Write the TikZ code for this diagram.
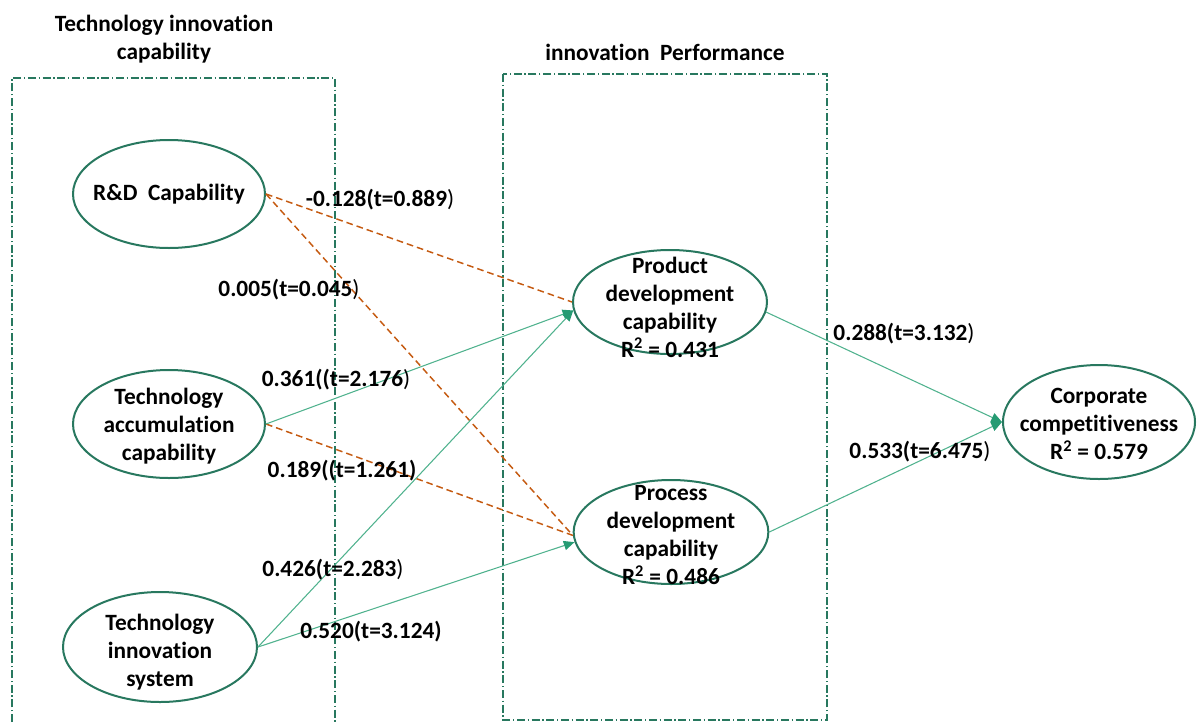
\documentclass[tikz,border=0pt]{standalone}
\usepackage{fontspec}
\setmainfont{Carlito}[RawFeature={-liga;-calt}]
\usetikzlibrary{shapes.geometric,arrows.meta}
\definecolor{ellgreen}{RGB}{40,120,95}
\definecolor{boxgreen}{RGB}{40,120,95}
\definecolor{linegreen}{RGB}{80,178,142}
\definecolor{tipgreen}{RGB}{38,155,115}
\definecolor{dashorange}{RGB}{197,90,17}
\begin{document}
\begin{tikzpicture}[x=0.75pt,y=-0.75pt,
  txt/.style={font=\fontsize{17.5}{21}\selectfont\bfseries, align=center, inner sep=0pt},
  construct/.style={draw=ellgreen, line width=1.5pt, ellipse, inner sep=0pt,
    minimum width=144pt, minimum height=81pt},
  groupbox/.style={draw=boxgreen, line width=0.9pt, dash pattern=on 6pt off 2pt on 1pt off 2pt},
  sig/.style={draw=linegreen, line width=0.8pt,
    -{Triangle[length=8pt,width=7pt,color=tipgreen,fill=tipgreen]}},
  nonsig/.style={draw=dashorange, line width=1.1pt, dash pattern=on 5pt off 3pt},
  coef/.style={txt}]
\useasboundingbox (0,0) rectangle (1200,722);

% group frames
\draw[groupbox] (12,722) -- (12,78) -- (335,78) -- (335,722);
\draw[groupbox] (503,74) rectangle (827,720);
\node[txt] (ttl1) at (164,39) {Technology innovation\\capability};
\node[txt] (ttl2) at (665,52) {innovation\ \ Performance};

% constructs
\node[construct] (rd) at (169,194) {};
\node[txt] (rdt) at (rd.center) {R\&D\ \ Capability};
\node[construct] (acc) at (169,424) {};
\node[txt] (acct) at (169,426) {Technology\\accumulation\\capability};
\node[construct, minimum width=145.5pt, minimum height=82.5pt] (sys) at (160,647) {};
\node[txt] (syst) at (160,652) {Technology\\innovation\\system};
\node[construct, minimum width=145.5pt, minimum height=78pt] (prod) at (670,302) {};
\node[txt] (prodt) at (670,307) {Product\\development\\capability\\R\textsuperscript{2} = 0.431};
\node[construct, minimum width=146pt, minimum height=78pt] (proc) at (671,532) {};
\node[txt] (proct) at (671,535) {Process\\development\\capability\\R\textsuperscript{2} = 0.486};
\node[construct, minimum height=85.5pt] (corp) at (1099,422) {};
\node[txt] (corpt) at (1099,424) {Corporate\\competitiveness\\R\textsuperscript{2} = 0.579};

% paths
\draw[nonsig] (rd.east) -- (prod.180);
\draw[nonsig] (rd.east) -- (proc.182);
\draw[nonsig] (acc.east) -- (proc.182);
\draw[sig] (acc.east) -- (prod.185);
\draw[sig] (sys.east) -- (prod.185);
\draw[sig] (sys.east) -- (proc.186);
\draw[sig] (prod.-6) -- (corp.west);
\draw[sig] (proc.east) -- (corp.west);

% path coefficients
\node[coef] (c1) at (380,200) {-0.128(t=0.889{\mdseries )}};
\node[coef] (c2) at (289,290) {0.005(t=0.045{\mdseries )}};
\node[coef] (c3) at (336,380) {0.361((t=2.176{\mdseries )}};
\node[coef] (c4) at (342,471) {0.189((t=1.261)};
\node[coef] (c5) at (333,570) {0.426(t=2.283{\mdseries )}};
\node[coef] (c6) at (371,632) {0.520(t=3.124)};
\node[coef] (c7) at (904,334) {0.288(t=3.132{\mdseries )}};
\node[coef] (c8) at (920,452) {0.533(t=6.475{\mdseries )}};
\end{tikzpicture}
\end{document}
